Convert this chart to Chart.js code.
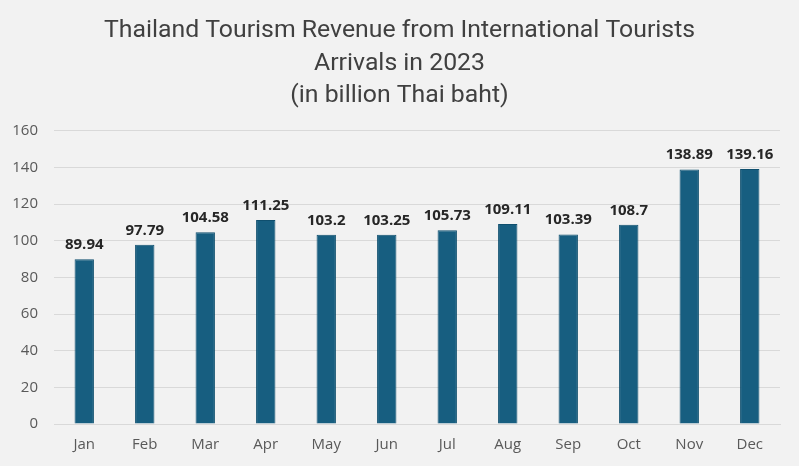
<!DOCTYPE html>
<html>
<head>
<meta charset="utf-8">
<script src="https://cdn.jsdelivr.net/npm/chart.js@4/dist/chart.umd.min.js"></script>
<style>
  html, body { margin: 0; padding: 0; background: #f2f2f2; }
  #wrap { width: 799px; height: 466px; }
</style>
</head>
<body>
<div id="wrap"><canvas id="mycanvas" width="799" height="466"></canvas></div>
<script>
var months = ["Jan", "Feb", "Mar", "Apr", "May", "Jun", "Jul", "Aug", "Sep", "Oct", "Nov", "Dec"];
var revenue = [89.94, 97.79, 104.58, 111.25, 103.2, 103.25, 105.73, 109.11, 103.39, 108.7, 138.89, 139.16];
var titleLines = ["Thailand Tourism Revenue from International Tourists", "Arrivals in 2023", "(in billion Thai baht)"];

// draws the value above each bar
var valueLabels = {
    id: "valueLabels",
    afterDatasetsDraw: function (chart) {
        var ctx = chart.ctx;
        var meta = chart.getDatasetMeta(0);
        ctx.save();
        ctx.font = "bold 15px 'Open Sans', sans-serif";
        ctx.fillStyle = "#262626";
        ctx.textAlign = "center";
        ctx.textBaseline = "bottom";
        meta.data.forEach(function (bar, i) {
            ctx.fillText(String(revenue[i]), bar.x, bar.y - 7);
        });
        ctx.restore();
    }
};

var ctx = document.getElementById("mycanvas");
var myNewChart = new Chart(ctx, {
    type: "bar",
    data: {
        labels: months,
        datasets: [{
            data: revenue,
            backgroundColor: "#175e80",
            borderColor: "#0f4f6e",
            borderWidth: 1,
            categoryPercentage: 1.0,
            barPercentage: 0.32
        }]
    },
    options: {
        responsive: false,
        animation: false,
        layout: { padding: { left: 0, right: 0, top: 0, bottom: 0 } },
        plugins: {
            legend: { display: false },
            tooltip: { enabled: false },
            title: {
                display: true,
                text: titleLines,
                color: "#404040",
                font: { family: "'Roboto', sans-serif", size: 24.8, weight: "normal", lineHeight: 1.3 },
                padding: { top: 15, bottom: 19 }
            }
        },
        scales: {
            x: {
                grid: { display: false, drawTicks: false },
                border: { display: true, color: "#d9d9d9" },
                ticks: { color: "#595959", font: { family: "'Open Sans', sans-serif", size: 15 }, padding: 12 }
            },
            y: {
                min: 0,
                max: 160,
                afterFit: function (scale) { scale.width = 54; },
                grid: { color: "#d9d9d9", drawTicks: false },
                border: { display: false },
                ticks: { stepSize: 20, color: "#595959", font: { family: "'Open Sans', sans-serif", size: 15 }, padding: 16 }
            },
            // empty axis on the right, only to leave a margin there
            gap: {
                position: "right",
                afterFit: function (scale) { scale.width = 19; },
                grid: { display: false, drawTicks: false },
                border: { display: false },
                ticks: { display: false }
            }
        }
    },
    plugins: [valueLabels]
});
</script>
</body>
</html>
